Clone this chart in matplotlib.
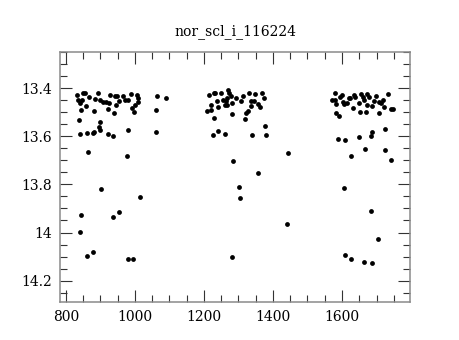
import matplotlib
matplotlib.use("Agg")
import matplotlib.pyplot as plt
from matplotlib.ticker import MultipleLocator

OUT = "out.png"
TITLE = "nor_scl_i_116224"

x_left = [833, 850, 855, 836, 846, 841, 858, 868, 844, 882, 884, 894, 899, 908,
          916, 928, 926, 923, 942, 949, 945, 940, 955, 966, 971, 981, 989, 992,
          997, 1000, 1007, 1010, 1010, 1063, 1061, 1090, 838, 900, 841, 860,
          878, 881, 897, 899, 923, 937, 981, 1060, 863, 977, 901, 1015, 843,
          955, 937, 841, 879, 862, 979, 995]
y_left = [13.43, 13.418, 13.418, 13.449, 13.449, 13.462, 13.472, 13.437, 13.49,
          13.494, 13.446, 13.421, 13.449, 13.456, 13.456, 13.428, 13.46, 13.487,
          13.432, 13.432, 13.469, 13.501, 13.453, 13.432, 13.449, 13.449, 13.424,
          13.483, 13.497, 13.469, 13.428, 13.442, 13.456, 13.432, 13.49, 13.442,
          13.532, 13.541, 13.591, 13.585, 13.587, 13.58, 13.562, 13.573, 13.591,
          13.598, 13.573, 13.583, 13.666, 13.681, 13.819, 13.852, 13.927, 13.914,
          13.935, 13.998, 14.082, 14.097, 14.111, 14.111]

x_mid = [1215, 1230, 1233, 1250, 1271, 1273, 1278, 1294, 1313, 1332, 1349, 1368,
         1373, 1239, 1254, 1264, 1266, 1281, 1307, 1337, 1344, 1220, 1240, 1260,
         1268, 1336, 1356, 1363, 1208, 1221, 1281, 1323, 1327, 1228, 1320, 1378,
         1242, 1225, 1262, 1340, 1381, 1444, 1284, 1358, 1303, 1305, 1442, 1282]
y_mid = [13.428, 13.421, 13.418, 13.421, 13.407, 13.418, 13.432, 13.439, 13.432,
         13.418, 13.425, 13.421, 13.442, 13.453, 13.449, 13.452, 13.442, 13.462,
         13.453, 13.452, 13.452, 13.469, 13.479, 13.469, 13.469, 13.474, 13.467,
         13.477, 13.494, 13.49, 13.508, 13.504, 13.494, 13.522, 13.528, 13.557,
         13.578, 13.594, 13.591, 13.595, 13.594, 13.669, 13.704, 13.753, 13.809,
         13.856, 13.963, 14.1]

x_right = [1579, 1571, 1579, 1583, 1595, 1600, 1603, 1605, 1615, 1620, 1624, 1636,
           1639, 1650, 1656, 1660, 1663, 1673, 1678, 1671, 1687, 1698, 1694, 1707,
           1712, 1719, 1733, 1721, 1631, 1651, 1670, 1707, 1741, 1748, 1584, 1592,
           1588, 1610, 1648, 1687, 1684, 1725, 1667, 1724, 1625, 1743, 1606, 1685,
           1703, 1608, 1627, 1665, 1688]
y_right = [13.421, 13.449, 13.449, 13.467, 13.435, 13.427, 13.456, 13.467, 13.462,
           13.442, 13.442, 13.428, 13.435, 13.46, 13.425, 13.435, 13.449, 13.424,
           13.435, 13.469, 13.474, 13.432, 13.452, 13.456, 13.462, 13.449, 13.424,
           13.479, 13.483, 13.497, 13.499, 13.501, 13.486, 13.486, 13.504, 13.515,
           13.612, 13.614, 13.604, 13.583, 13.597, 13.57, 13.651, 13.657, 13.68,
           13.697, 13.815, 13.91, 14.028, 14.094, 14.111, 14.121, 14.128]


def main():
    plt.rcParams["font.family"] = ["DejaVu Serif"]

    fig = plt.figure(figsize=(4.6, 3.4), dpi=100)
    ax = fig.add_axes([0.1304, 0.1118, 0.7609, 0.7353])

    xs = x_left + x_mid + x_right
    ys = y_left + y_mid + y_right
    ax.scatter(xs, ys, s=12, c="black", linewidths=0)

    ax.set_xlim(783, 1797)
    ax.set_ylim(14.289, 13.249)

    ax.xaxis.set_major_locator(MultipleLocator(200))
    ax.xaxis.set_minor_locator(MultipleLocator(50))
    ax.yaxis.set_major_locator(MultipleLocator(0.2))
    ax.yaxis.set_minor_locator(MultipleLocator(0.05))
    ax.yaxis.set_major_formatter(plt.FuncFormatter(lambda v, p: f"{v:.1f}".rstrip("0").rstrip(".")))

    for s in ax.spines.values():
        s.set_color("#8a8a8a")
        s.set_linewidth(1.1)

    ax.tick_params(which="both", direction="in", top=True, right=True,
                   color="#333333", width=0.8, labelsize=10)
    ax.tick_params(which="major", length=8.5, pad=6)
    ax.tick_params(which="minor", length=5)

    ax.set_title(TITLE, fontsize=10, pad=12)

    fig.savefig(OUT, dpi=100)


if __name__ == "__main__":
    main()
